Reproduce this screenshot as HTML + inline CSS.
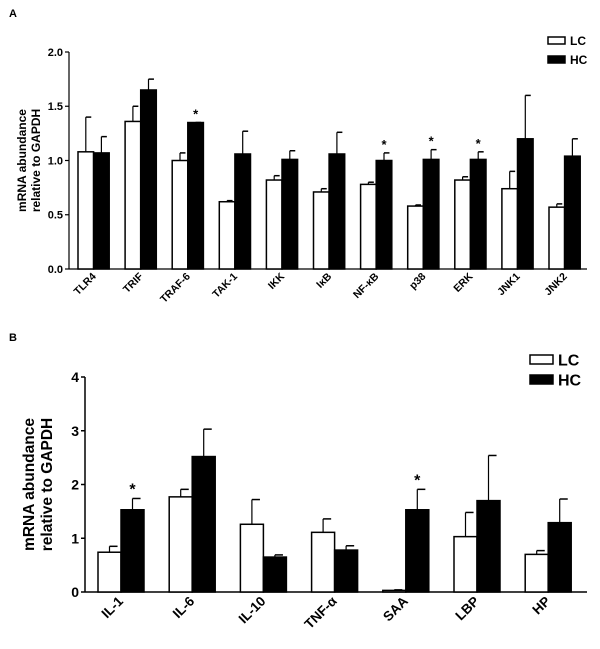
<!DOCTYPE html>
<html><head><meta charset="utf-8"><style>
body{margin:0;background:#fff;}
svg{display:block;font-family:"Liberation Sans",Arial,sans-serif;font-weight:bold;}
</style></head><body>
<svg id="fig" width="600" height="649" viewBox="0 0 600 649"></svg>
<script>
// Panel A data
const catsA = ["TLR4","TRIF","TRAF-6","TAK-1","IKK","IκB","NF-κB","p38","ERK","JNK1","JNK2"];
const lcA = [1.08,1.36,1.00,0.62,0.82,0.71,0.78,0.58,0.82,0.74,0.57];
const lcAerr = [1.40,1.50,1.07,0.63,0.86,0.74,0.80,0.59,0.85,0.90,0.60];
const hcA = [1.07,1.65,1.35,1.06,1.01,1.06,1.00,1.01,1.01,1.20,1.04];
const hcAerr = [1.22,1.75,1.35,1.27,1.09,1.26,1.07,1.10,1.08,1.60,1.20];
const starsA = [false,false,true,false,false,false,true,true,true,false,false];
const ticksA = [0,0.5,1.0,1.5,2.0];
const tickLabelsA = ["0.0","0.5","1.0","1.5","2.0"];
// Panel B data
const catsB = ["IL-1","IL-6","IL-10","TNF-α","SAA","LBP","HP"];
const lcB = [0.74,1.77,1.26,1.11,0.03,1.03,0.70];
const lcBerr = [0.85,1.91,1.72,1.36,0.04,1.48,0.77];
const hcB = [1.53,2.52,0.65,0.78,1.53,1.70,1.29];
const hcBerr = [1.74,3.03,0.69,0.86,1.91,2.54,1.73];
const starsB = [true,false,false,false,true,false,false];
const ticksB = [0,1,2,3,4];
const tickLabelsB = ["0","1","2","3","4"];

const NS="http://www.w3.org/2000/svg";
const svg=document.getElementById('fig');
function mk(tag,attrs,parent,text){const e=document.createElementNS(NS,tag);for(const k in attrs)e.setAttribute(k,attrs[k]);if(text!==undefined)e.textContent=text;(parent||svg).appendChild(e);return e;}

function panel(o){
  const g=mk('g',{});
  
  
  const y=v=>o.y0-(v-o.vmin)/(o.vmax-o.vmin)*(o.y0-o.y1);
  const x=i=>o.xStart+i*o.pitch;
  const ya=mk('line',{x1:o.ax,y1:o.y1,x2:o.ax,y2:o.y0,stroke:'#000','stroke-width':o.axw},g);
  
  
  const xa=mk('line',{x1:o.ax,y1:o.y0,x2:o.xEnd,y2:o.y0,stroke:'#000','stroke-width':o.axw},g);
  
  
  o.ticks.forEach((t,i)=>{
    mk('line',{x1:o.ax-4,y1:y(t),x2:o.ax,y2:y(t),stroke:'#000','stroke-width':o.axw},g);
    const tl=mk('text',{x:o.ax-6,y:y(t)+o.tfs*0.36,'text-anchor':'end','font-size':o.tfs},g,o.tickLabels[i]);
    
    
  });
  o.cats.forEach((c,i)=>{
    const gx=x(i);
    [[o.lc,o.lcErr,'#fff','lc'],[o.hc,o.hcErr,'#000','hc']].forEach((s,j)=>{
      const bx=gx+j*o.bw, v=s[0][i], e=s[1][i];
      const ex=bx+o.bw/2;
      const el=mk('line',{x1:ex,y1:y(v),x2:ex,y2:y(e),stroke:'#000','stroke-width':1.2},g);
      
      
      mk('line',{x1:ex,y1:y(e),x2:ex+o.bw*0.35,y2:y(e),stroke:'#000','stroke-width':1.5},g);
      const r=mk('rect',{x:bx,y:y(v),width:o.bw,height:o.y0-y(v),fill:s[2],stroke:'#000','stroke-width':1.5},g);
      
      
    });
    if(o.stars[i]){
      const st=mk('text',{x:gx+o.bw*1.5,y:y(o.hcErr[i])-o.starGap,'text-anchor':'middle','font-size':o.sfs},g,'*');
      
      
    }
    const cx=gx+o.bw+3, cy=o.y0+o.lblOff;
    const lb=mk('text',{x:cx,y:cy,'text-anchor':'end','font-size':o.xfs,transform:`rotate(-45 ${cx} ${cy})`},g,c);
    
    
  });
  const tt=mk('text',{transform:`translate(${o.titleX} ${(o.y0+o.y1)/2}) rotate(-90)`,'text-anchor':'middle','font-size':o.ttfs},g);
  
  
  mk('tspan',{x:0,dy:0},tt,'mRNA abundance');
  mk('tspan',{x:0,dy:o.ttfs*1.15},tt,'relative to GAPDH');
  [['LC','#fff'],['HC','#000']].forEach((l,i)=>{
    const ly=o.legY+i*o.legGap;
    const lr=mk('rect',{x:o.legX,y:ly,width:o.legW,height:o.legH,fill:l[1],stroke:'#000','stroke-width':1.5},g);
    
    
    const lt=mk('text',{x:o.legX+o.legW+5,y:ly+o.legH/2+o.lfs*0.36,'font-size':o.lfs},g,l[0]);
    
    
  });
  const pl=mk('text',{x:9,y:o.labelY,'font-size':11},g,o.label);
  
  
}

panel({name:'panel-a-chart',label:'A',labelY:17,cats:catsA,lc:lcA,lcErr:lcAerr,hc:hcA,hcErr:hcAerr,stars:starsA,
  ticks:ticksA,tickLabels:tickLabelsA,vmin:0,vmax:2,y0:269,y1:52,ax:69,xEnd:587,xStart:78,pitch:47.1,bw:15.6,axw:1.2,
  tfs:11,xfs:10.5,ttfs:12,sfs:13,starGap:4,lblOff:8,titleX:26,
  legX:548,legY:37,legGap:19,legW:17,legH:7,lfs:12});
panel({name:'panel-b-chart',label:'B',labelY:341,cats:catsB,lc:lcB,lcErr:lcBerr,hc:hcB,hcErr:hcBerr,stars:starsB,
  ticks:ticksB,tickLabels:tickLabelsB,vmin:0,vmax:4,y0:592,y1:377,ax:85,xEnd:587,xStart:98,pitch:71.2,bw:23,axw:1.5,
  tfs:14,xfs:13.5,ttfs:15.5,sfs:16,starGap:4,lblOff:10,titleX:34,
  legX:530,legY:355,legGap:20,legW:23,legH:9,lfs:16});
</script>
</body></html>
